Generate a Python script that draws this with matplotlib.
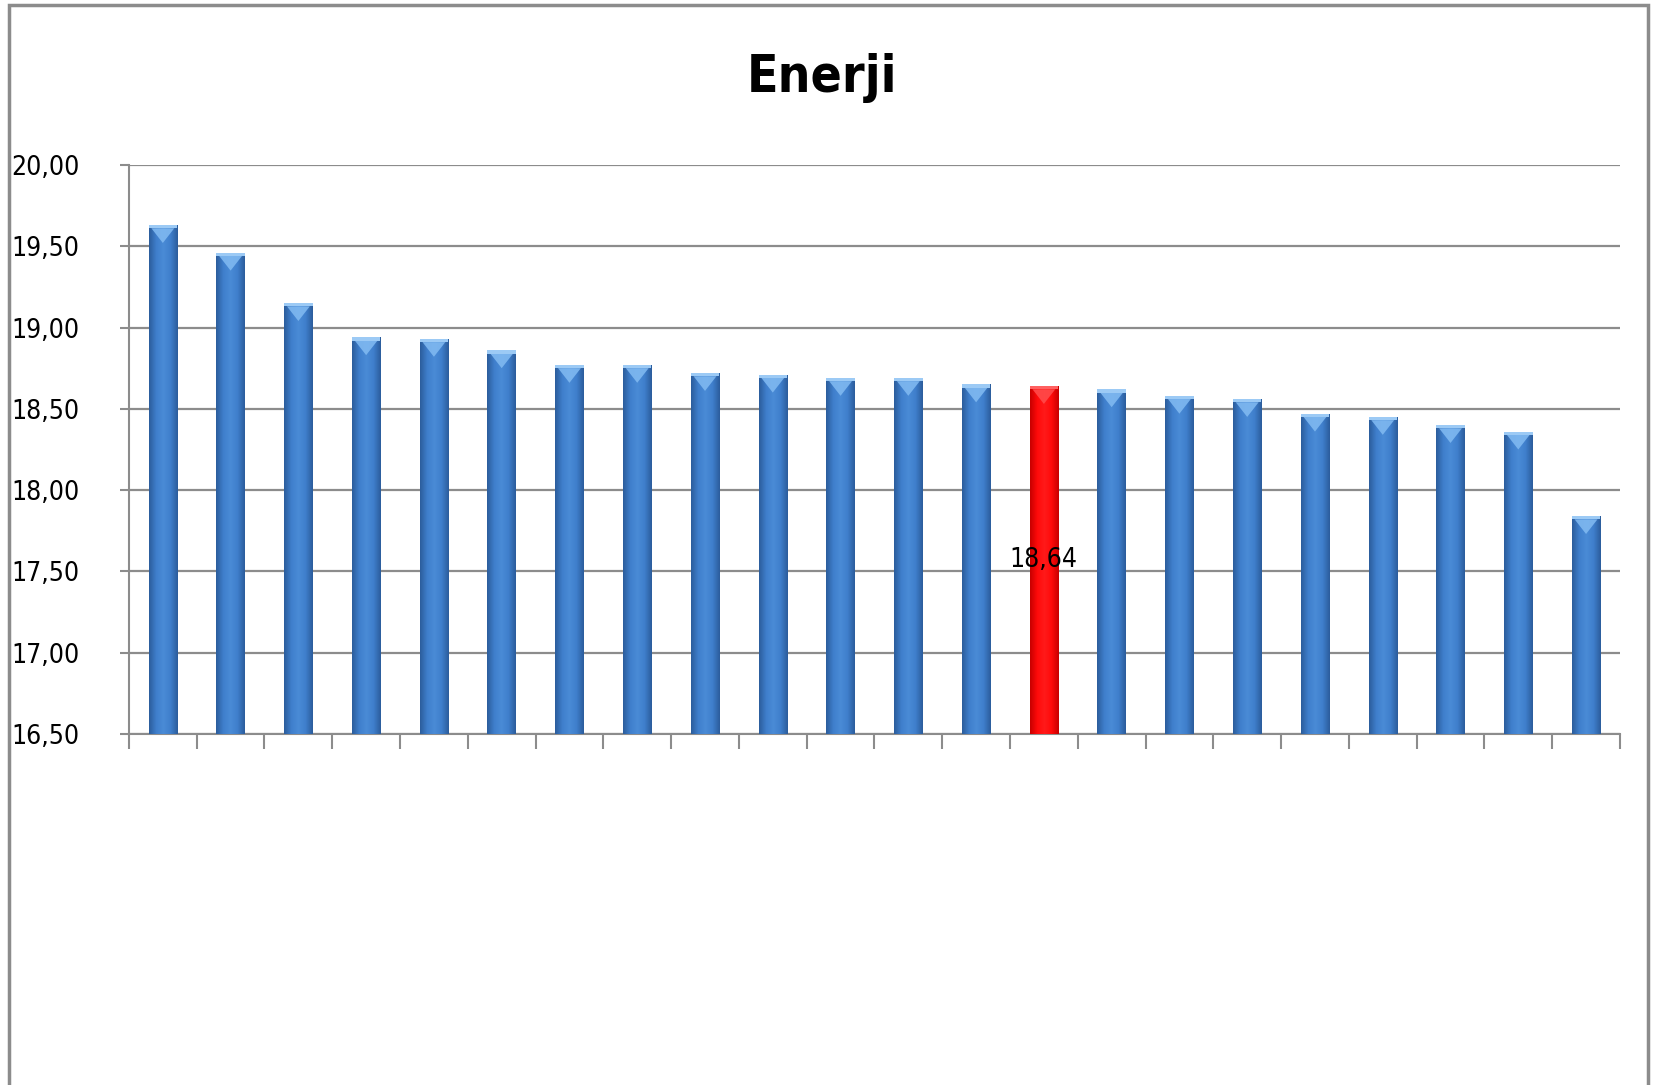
import matplotlib.pyplot as plt
import numpy as np
from matplotlib.patches import Rectangle, Polygon
from matplotlib.colors import LinearSegmentedColormap
from matplotlib import font_manager
from matplotlib.font_manager import FontProperties

# values, sorted high to low
values = [19.63, 19.46, 19.15, 18.94, 18.93, 18.86, 18.77, 18.77, 18.72, 18.71, 18.69,
          18.69, 18.65, 18.64, 18.62, 18.58, 18.56, 18.47, 18.45, 18.40, 18.36, 17.84]
highlight = 13  # the red bar
yticks = [16.5, 17.0, 17.5, 18.0, 18.5, 19.0, 19.5, 20.0]
title = "Enerji"


def pick_font(bold):
    # narrow face, the original uses a squeezed Calibri-like look
    for f in font_manager.fontManager.ttflist:
        is_bold = f.weight in ("bold", 700)
        if f.name == "DejaVu Sans" and "condensed" in str(f.stretch) and is_bold == bold \
                and f.style == "normal":
            return FontProperties(fname=f.fname)
    return FontProperties(family="DejaVu Sans", weight="bold" if bold else "normal")


fp = pick_font(False)
fp_b = pick_font(True)
lab_size, title_size = 19, 37

fig = plt.figure(figsize=(16.53, 10.85), dpi=100)
ax = fig.add_axes([0.078, 0.3235, 0.902, 0.5245])

# outer chart border
fig.patches.append(Rectangle((9 / 1653, -0.01), (1648 - 9) / 1653, 1.01 - 5 / 1085,
                             transform=fig.transFigure, fill=False,
                             edgecolor="#8c8c8c", linewidth=2.5))

blue = LinearSegmentedColormap.from_list("b", ["#2c5d9c", "#3f7fcc", "#4a8bd6", "#3f7fcc", "#2c5d9c"])
red = LinearSegmentedColormap.from_list("r", ["#c80000", "#ff0a0a", "#ff1a1a", "#ff0a0a", "#c80000"])

x = np.arange(len(values))
bw = 0.42
bars = ax.bar(x, np.array(values) - 16.5, bottom=16.5, width=bw,
              facecolor="none", edgecolor="none", zorder=3)
grad = np.linspace(0, 1, 64).reshape(1, -1)
for i, b in enumerate(bars):
    cmap = red if i == highlight else blue
    x0, w = b.get_x(), b.get_width()
    im = ax.imshow(grad, cmap=cmap, aspect="auto", zorder=3,
                   extent=(x0, x0 + w, 16.5, values[i]))
    im.set_clip_path(b)
    tri_col = "#ff4a4a" if i == highlight else "#7fb8f0"
    top_col = "#ff6060" if i == highlight else "#9ccaf5"
    ax.add_patch(Polygon([(x0 + w * 0.1, values[i] - 0.02), (x0 + w * 0.9, values[i] - 0.02),
                          (x0 + w / 2, values[i] - 0.11)],
                         closed=True, facecolor=tri_col, edgecolor="none", zorder=4, alpha=0.9))
    ax.add_patch(Rectangle((x0, values[i] - 0.02), w, 0.02, facecolor=top_col,
                           edgecolor="none", zorder=4))

ax.text(highlight, (16.5 + values[highlight]) / 2, f"{values[highlight]:.2f}".replace(".", ","),
        ha="center", va="center", fontproperties=fp, fontsize=lab_size, color="black", zorder=5)

ax.set_xlim(-0.5, len(values) - 0.5)
ax.set_ylim(16.5, 20.0)
ax.set_yticks(yticks)
ax.set_yticklabels([f"{v:.2f}".replace(".", ",") for v in yticks])
for t in ax.get_yticklabels():
    t.set_fontproperties(fp)
    t.set_fontsize(lab_size)
ax.set_xticks(np.arange(len(values) + 1) - 0.5)
ax.set_xticklabels([])
ax.tick_params(axis="x", direction="out", length=11, width=1.5, color="#8c8c8c")
ax.tick_params(axis="y", direction="out", length=6.5, width=1.5, color="#8c8c8c", pad=29)
ax.yaxis.grid(True, color="#8c8c8c", linewidth=1.6, zorder=0)
ax.set_axisbelow(True)
for s in ["top", "right"]:
    ax.spines[s].set_visible(False)
for s in ["left", "bottom"]:
    ax.spines[s].set_color("#8c8c8c")
    ax.spines[s].set_linewidth(1.5)

fig.text(0.497, 0.928, title, ha="center", va="center", fontproperties=fp_b, fontsize=title_size)

fig.savefig("out.png", dpi=100)
